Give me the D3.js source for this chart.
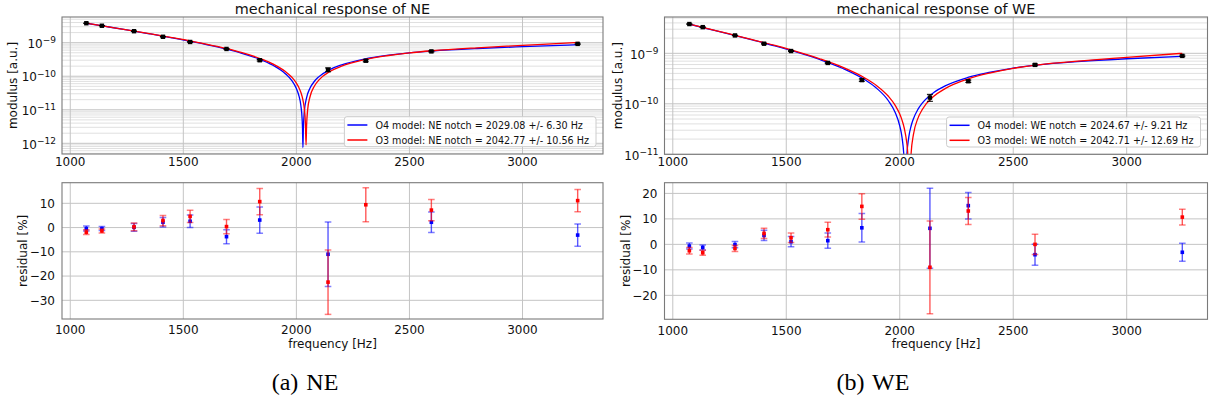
<!DOCTYPE html>
<html><head><meta charset="utf-8">
<script src="https://cdn.jsdelivr.net/npm/d3@7"></script>
<style>body{margin:0;background:#fff}svg{display:block}text{font-family:"DejaVu Sans",sans-serif;fill:#111}</style>
</head><body>
<svg id="chart" width="1214" height="405"></svg>
<script>
// ---------------- data ----------------
const freqTicks = [1000, 1500, 2000, 2500, 3000];
const neLogTicks = [-12, -11, -10, -9];
const weLogTicks = [-11, -10, -9];
const neResTicks = [-30, -20, -10, 0, 10];
const weResTicks = [-20, -10, 0, 10, 20];

const neTitle = "mechanical response of NE";
const weTitle = "mechanical response of WE";
const neLegend = ["O4 model: NE notch = 2029.08 +/- 6.30 Hz", "O3 model: NE notch = 2042.77 +/- 10.56 Hz"];
const weLegend = ["O4 model: WE notch = 2024.67 +/- 9.21 Hz", "O3 model: WE notch = 2042.71 +/- 12.69 Hz"];
const captions = ["(a) NE", "(b) WE"];

// measured points
const neFreq = [1071, 1140, 1282, 1410, 1530, 1691, 1838, 2140, 2307, 2597, 3244];
const neModulus = [3.8e-9, 3.2e-9, 2.2e-9, 1.5e-9, 1.05e-9, 6.5e-10, 3.0e-10, 1.56e-10, 2.9e-10, 5.5e-10, 9.2e-10];
const neModErrPct = [1.0, 0.8, 1.6, 2.0, 2.6, 2.9, 5.4, 13.3, 7.0, 4.2, 4.6];
const weFreq = [1073, 1132, 1274, 1402, 1521, 1683, 1833, 2133, 2302, 2596, 3245];
const weModulus = [3.8e-9, 3.3e-9, 2.26e-9, 1.55e-9, 1.11e-9, 6.45e-10, 2.95e-10, 1.33e-10, 2.8e-10, 5.9e-10, 8.9e-10];
const weModErrPct = [1.2, 1.0, 1.2, 2.0, 2.0, 3.0, 5.5, 15.7, 5.2, 4.1, 3.5];

// model curves (sampled along the drawn lines)
const neO4Freq = [1070,1150,1250,1350,1450,1550,1650,1750,1850,1900,1950,1980,2000,2010,2020,2025,2027,2029,2031,2035,2045,2060,2080,2100,2150,2200,2300,2400,2500,2600,2800,3000,3250];
const neO4Mod = [3.80e-9,3.10e-9,2.40e-9,1.84e-9,1.40e-9,1.045e-9,7.5e-10,5.04e-10,2.97e-10,2.06e-10,1.21e-10,7.35e-11,4.29e-11,2.80e-11,1.32e-11,5.9e-12,3.0e-12,7.5e-13,2.8e-12,8.5e-12,2.27e-11,4.36e-11,7.08e-11,9.72e-11,1.60e-10,2.19e-10,3.25e-10,4.18e-10,5.0e-10,5.65e-10,6.7e-10,7.6e-10,8.7e-10];
const neO3Freq = [1070,1150,1250,1350,1450,1550,1650,1750,1850,1900,1950,1980,2000,2010,2020,2030,2035,2040,2042.77,2045,2050,2060,2080,2100,2150,2200,2300,2400,2500,2600,2800,3000,3250];
const neO3Mod = [3.82e-9,3.11e-9,2.41e-9,1.86e-9,1.42e-9,1.065e-9,7.7e-10,5.24e-10,3.17e-10,2.25e-10,1.41e-10,9.3e-11,6.25e-11,4.75e-11,3.28e-11,1.82e-11,1.1e-11,3.9e-12,9e-13,3.1e-12,1.02e-11,2.4e-11,5.13e-11,7.8e-11,1.41e-10,2.0e-10,3.1e-10,4.08e-10,4.98e-10,5.75e-10,7.05e-10,8.3e-10,1.02e-9];
const weO4Freq = [1075,1150,1250,1350,1450,1550,1650,1750,1850,1900,1950,1980,2000,2010,2020,2024.67,2030,2040,2050,2060,2080,2100,2150,2200,2300,2400,2500,2600,2800,3000,3245];
const weO4Mod = [3.76e-9,3.10e-9,2.40e-9,1.84e-9,1.40e-9,1.04e-9,7.46e-10,5.0e-10,2.92e-10,2.0e-10,1.15e-10,6.73e-11,3.66e-11,2.16e-11,6.8e-12,1e-12,7.7e-12,2.21e-11,3.63e-11,5.02e-11,7.75e-11,1.04e-10,1.67e-10,2.26e-10,3.32e-10,4.22e-10,5.1e-10,5.85e-10,6.95e-10,7.8e-10,8.7e-10];
const weO3Freq = [1075,1150,1250,1350,1450,1550,1650,1750,1850,1900,1950,1980,2000,2010,2020,2030,2035,2042.71,2050,2060,2080,2100,2150,2200,2300,2400,2500,2600,2800,3000,3245];
const weO3Mod = [3.79e-9,3.125e-9,2.42e-9,1.87e-9,1.43e-9,1.07e-9,7.72e-10,5.26e-10,3.18e-10,2.26e-10,1.41e-10,9.33e-11,6.26e-11,4.76e-11,3.28e-11,1.82e-11,1.1e-11,1e-12,1.03e-11,2.42e-11,5.15e-11,7.8e-11,1.41e-10,2.0e-10,3.1e-10,4.1e-10,5.05e-10,5.85e-10,7.1e-10,8.3e-10,1.0e-9];

// residuals [%]
const neResO4 = [-0.4, -0.4, 0.1, 2.2, 2.6, -3.75, 3.1, -11.0, null, 2.2, -3.1];
const neResO4Err = [1.0, 0.8, 1.6, 2.0, 2.6, 2.9, 5.4, 13.3, null, 4.2, 4.6];
const neResO3 = [-1.9, -1.4, 0.3, 2.9, 4.6, 0.4, 10.7, -22.5, 9.4, 7.2, 11.1];
const neResO3Err = [1.0, 0.8, 1.6, 2.1, 2.5, 2.9, 5.4, 13.3, 7.0, 4.4, 4.6];
const weResO4 = [-0.65, -1.2, -0.1, 3.5, 1.05, 1.45, 6.5, 6.3, 15.2, -4.05, -3.1];
const weResO4Err = [1.2, 1.0, 1.2, 2.0, 2.0, 3.0, 5.6, 15.7, 5.2, 4.1, 3.5];
const weResO3 = [-2.5, -3.3, -1.6, 4.3, 2.6, 5.75, 14.9, -9.0, 13.1, 0.0, 10.7];
const weResO3Err = [1.3, 1.0, 1.2, 2.0, 1.9, 2.9, 5.0, 18.2, 5.3, 4.0, 3.1];

// ---------------- layout ----------------
const freqDomain = [963.5, 3356];
const COL_O4 = "#0000ff", COL_O3 = "#ff0000";
const panels = [
  { id: "ne", x0: 62, x1: 603, topY: [17, 154], botY: [182.7, 319], logDomain: [4.8e-13, 5.83e-9], resDomain: [-37.7, 18.5],
    logTicks: neLogTicks, resTicks: neResTicks, title: neTitle, legend: neLegend, ylabX: 17, rlabX: 27, capCx: 305,
    freq: neFreq, mod: neModulus, modErr: neModErrPct,
    curves: [[neO4Freq, neO4Mod, COL_O4], [neO3Freq, neO3Mod, COL_O3]],
    res: [[neResO4, neResO4Err, COL_O4], [neResO3, neResO3Err, COL_O3]], caption: captions[0] },
  { id: "we", x0: 664.5, x1: 1207.5, topY: [17, 154.3], botY: [182.7, 319.3], logDomain: [1e-11, 5.24e-9], resDomain: [-29.4, 24.2],
    logTicks: weLogTicks, resTicks: weResTicks, title: weTitle, legend: weLegend, ylabX: 622, rlabX: 630, capCx: 873,
    freq: weFreq, mod: weModulus, modErr: weModErrPct,
    curves: [[weO4Freq, weO4Mod, COL_O4], [weO3Freq, weO3Mod, COL_O3]],
    res: [[weResO4, weResO4Err, COL_O4], [weResO3, weResO3Err, COL_O3]], caption: captions[1] }
];

const svg = d3.select("#chart");
const defs = svg.append("defs");
const minus = s => String(s).replace("-", "\u2212");
const GRID = "#c4c4c4", GRID_MINOR = "#dcdcdc", SPINE = "#7a7a7a";

panels.forEach(P => {
  const x = d3.scaleLinear().domain(freqDomain).range([P.x0, P.x1]);

  // ================= top: modulus (log) =================
  const yT = d3.scaleLog().domain(P.logDomain).range([P.topY[1], P.topY[0]]);
  const gT = svg.append("g");
  defs.append("clipPath").attr("id", "clipT" + P.id).append("rect")
    .attr("x", P.x0).attr("y", P.topY[0]).attr("width", P.x1 - P.x0).attr("height", P.topY[1] - P.topY[0]);

  const allLogTicks = yT.ticks();
  const majorVals = P.logTicks.map(e => Math.pow(10, e));
  const isMajor = v => majorVals.some(m => Math.abs(v / m - 1) < 1e-6);
  gT.append("g").selectAll("line").data(allLogTicks.filter(v => !isMajor(v))).join("line")
    .attr("x1", P.x0).attr("x2", P.x1).attr("y1", d => yT(d)).attr("y2", d => yT(d))
    .attr("stroke", GRID_MINOR).attr("stroke-width", 0.9);
  gT.append("g").selectAll("line").data(majorVals).join("line")
    .attr("x1", P.x0).attr("x2", P.x1).attr("y1", d => yT(d)).attr("y2", d => yT(d))
    .attr("stroke", GRID).attr("stroke-width", 1);
  gT.append("g").selectAll("line").data(freqTicks).join("line")
    .attr("x1", d => x(d)).attr("x2", d => x(d)).attr("y1", P.topY[0]).attr("y2", P.topY[1])
    .attr("stroke", GRID).attr("stroke-width", 1);

  // curves
  const line = d3.line().x(d => x(d[0])).y(d => yT(d[1])).curve(d3.curveMonotoneX);
  const cg = gT.append("g").attr("clip-path", `url(#clipT${P.id})`);
  P.curves.forEach(([fr, mv, col]) => {
    cg.append("path").datum(fr.map((f, i) => [f, mv[i]])).attr("d", line)
      .attr("fill", "none").attr("stroke", col).attr("stroke-width", 1.3);
  });

  // data points with error bars
  const pts = P.freq.map((f, i) => ({ f, v: P.mod[i], e: P.modErr[i] / 100 }));
  const pg = gT.append("g").attr("clip-path", `url(#clipT${P.id})`);
  pts.forEach(d => {
    const cx = x(d.f), ylo = yT(d.v * (1 - d.e)), yhi = yT(d.v * (1 + d.e));
    pg.append("line").attr("x1", cx).attr("x2", cx).attr("y1", ylo).attr("y2", yhi).attr("stroke", "#000").attr("stroke-width", 1);
    [ylo, yhi].forEach(yy => pg.append("line").attr("x1", cx - 3).attr("x2", cx + 3).attr("y1", yy).attr("y2", yy).attr("stroke", "#000").attr("stroke-width", 1));
    pg.append("rect").attr("x", cx - 2.2).attr("y", yT(d.v) - 2.2).attr("width", 4.4).attr("height", 4.4).attr("fill", "#000");
  });

  // frame
  gT.append("rect").attr("x", P.x0).attr("y", P.topY[0]).attr("width", P.x1 - P.x0).attr("height", P.topY[1] - P.topY[0])
    .attr("fill", "none").attr("stroke", SPINE).attr("stroke-width", 1.1);

  // ticks labels
  gT.append("g").selectAll("text").data(freqTicks).join("text")
    .attr("x", d => x(d)).attr("y", P.topY[1] + 12).attr("text-anchor", "middle").attr("font-size", 12).text(d => d);
  P.logTicks.forEach(e => {
    const t = gT.append("text").attr("x", P.x0 - 6).attr("y", yT(Math.pow(10, e)) + 5.2).attr("text-anchor", "end").attr("font-size", 12);
    t.append("tspan").text("10");
    t.append("tspan").attr("dy", -4.6).attr("font-size", 9).text(minus(e));
  });
  gT.append("text").attr("transform", `translate(${P.ylabX},${(P.topY[0] + P.topY[1]) / 2}) rotate(-90)`)
    .attr("text-anchor", "middle").attr("font-size", 12).text("modulus [a.u.]");
  gT.append("text").attr("x", (P.x0 + P.x1) / 2).attr("y", 13.5).attr("text-anchor", "middle").attr("font-size", 14.4).text(P.title);

  // legend
  const lg = gT.append("g");
  const lt = P.legend.map((s, i) => lg.append("text").attr("font-size", 9.6).text(s));
  const tw = d3.max(lt, t => t.node().getComputedTextLength());
  const bw = 3 + 20 + 8 + tw + 7, bh = 30;
  const bx = P.x1 - 7 - bw, by = P.topY[1] - 7.3 - bh;
  lg.insert("rect", "text").attr("x", bx).attr("y", by).attr("width", bw).attr("height", bh).attr("rx", 2.5)
    .attr("fill", "#fff").attr("fill-opacity", 0.85).attr("stroke", "#cccccc").attr("stroke-width", 1);
  [COL_O4, COL_O3].forEach((c, i) => {
    const yy = by + 8.3 + i * 15;
    lg.append("line").attr("x1", bx + 3).attr("x2", bx + 23).attr("y1", yy).attr("y2", yy).attr("stroke", c).attr("stroke-width", 1.5);
    lt[i].attr("x", bx + 31).attr("y", yy + 3.5);
  });

  // ================= bottom: residuals =================
  const yB = d3.scaleLinear().domain(P.resDomain).range([P.botY[1], P.botY[0]]);
  const gB = svg.append("g");
  defs.append("clipPath").attr("id", "clipB" + P.id).append("rect")
    .attr("x", P.x0).attr("y", P.botY[0]).attr("width", P.x1 - P.x0).attr("height", P.botY[1] - P.botY[0]);
  gB.append("g").selectAll("line").data(P.resTicks).join("line")
    .attr("x1", P.x0).attr("x2", P.x1).attr("y1", d => yB(d)).attr("y2", d => yB(d)).attr("stroke", GRID).attr("stroke-width", 1);
  gB.append("g").selectAll("line").data(freqTicks).join("line")
    .attr("x1", d => x(d)).attr("x2", d => x(d)).attr("y1", P.botY[0]).attr("y2", P.botY[1]).attr("stroke", GRID).attr("stroke-width", 1);

  const rg = gB.append("g").attr("clip-path", `url(#clipB${P.id})`);
  P.res.forEach(([vals, errs, col]) => {
    vals.forEach((v, i) => {
      if (v === null) return;
      const cx = x(P.freq[i]), ylo = yB(v - errs[i]), yhi = yB(v + errs[i]);
      rg.append("line").attr("x1", cx).attr("x2", cx).attr("y1", ylo).attr("y2", yhi)
        .attr("stroke", col).attr("stroke-opacity", 0.65).attr("stroke-width", 1.4);
      [ylo, yhi].forEach(yy => rg.append("line").attr("x1", cx - 3.3).attr("x2", cx + 3.3).attr("y1", yy).attr("y2", yy)
        .attr("stroke", col).attr("stroke-opacity", 0.5).attr("stroke-width", 1.5));
      rg.append("rect").attr("x", cx - 1.8).attr("y", yB(v) - 1.8).attr("width", 3.6).attr("height", 3.6).attr("fill", col);
    });
  });

  gB.append("rect").attr("x", P.x0).attr("y", P.botY[0]).attr("width", P.x1 - P.x0).attr("height", P.botY[1] - P.botY[0])
    .attr("fill", "none").attr("stroke", SPINE).attr("stroke-width", 1.1);
  gB.append("g").selectAll("text").data(freqTicks).join("text")
    .attr("x", d => x(d)).attr("y", P.botY[1] + 15.3).attr("text-anchor", "middle").attr("font-size", 12).text(d => d);
  gB.append("g").selectAll("text").data(P.resTicks).join("text")
    .attr("x", P.x0 - 7).attr("y", d => yB(d)).attr("dy", "0.36em").attr("text-anchor", "end").attr("font-size", 12).text(d => minus(d));
  gB.append("text").attr("transform", `translate(${P.rlabX},${(P.botY[0] + P.botY[1]) / 2}) rotate(-90)`)
    .attr("text-anchor", "middle").attr("font-size", 12).text("residual [%]");
  gB.append("text").attr("x", (P.x0 + P.x1) / 2).attr("y", 348).attr("text-anchor", "middle").attr("font-size", 12).text("frequency [Hz]");

  // caption
  svg.append("text").attr("x", P.capCx).attr("y", 389.5).attr("font-size", 24).attr("text-anchor", "middle")
    .style("font-family", "'Liberation Serif', 'DejaVu Serif', serif").style("fill", "#000").style("word-spacing", "2px").text(P.caption);
});
</script>
</body></html>
